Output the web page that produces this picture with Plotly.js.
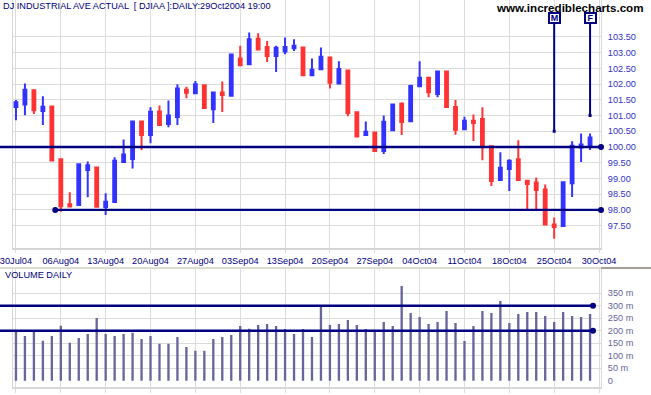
<!DOCTYPE html>
<html>
<head>
<meta charset="utf-8">
<script src="https://cdn.plot.ly/plotly-3.0.1.min.js"></script>
<style>
html,body{margin:0;padding:0;background:#ffffff;}
#chart{width:651px;height:395px;}
</style>
</head>
<body>
<div id="chart"></div>
<script>
// ---------- data ----------
const dates = [
  '2004-07-30',
  '2004-08-02','2004-08-03','2004-08-04','2004-08-05','2004-08-06',
  '2004-08-09','2004-08-10','2004-08-11','2004-08-12','2004-08-13',
  '2004-08-16','2004-08-17','2004-08-18','2004-08-19','2004-08-20',
  '2004-08-23','2004-08-24','2004-08-25','2004-08-26','2004-08-27',
  '2004-08-30','2004-08-31','2004-09-01','2004-09-02','2004-09-03',
  '2004-09-07','2004-09-08','2004-09-09','2004-09-10',
  '2004-09-13','2004-09-14','2004-09-15','2004-09-16','2004-09-17',
  '2004-09-20','2004-09-21','2004-09-22','2004-09-23','2004-09-24',
  '2004-09-27','2004-09-28','2004-09-29','2004-09-30','2004-10-01',
  '2004-10-04','2004-10-05','2004-10-06','2004-10-07','2004-10-08',
  '2004-10-11','2004-10-12','2004-10-13','2004-10-14','2004-10-15',
  '2004-10-18','2004-10-19','2004-10-20','2004-10-21','2004-10-22',
  '2004-10-25','2004-10-26','2004-10-27','2004-10-28','2004-10-29'
];
const open = [
  101.27,101.35,101.80,101.14,101.29,99.61,98.18,98.16,99.27,99.35,
  98.09,98.25,99.52,99.62,100.81,100.38,101.13,100.73,100.95,101.82,
  101.71,101.96,101.20,101.73,101.63,102.81,102.63,103.44,103.18,102.89,
  103.03,103.14,103.16,102.28,102.47,102.84,102.02,102.43,101.10,100.38,
  100.46,99.87,100.53,101.37,100.82,101.93,102.20,101.68,102.40,101.27,
  100.56,100.83,100.89,100.02,98.95,99.30,99.61,98.93,98.87,98.65,
  97.54,97.49,98.85,99.98,100.01
];
const high = [
  101.49,102.02,101.80,101.61,101.29,99.61,98.56,99.45,99.54,99.35,
  98.53,99.67,100.24,100.81,100.81,101.26,101.32,101.48,101.99,101.91,
  102.10,101.96,101.73,102.08,102.97,103.22,103.64,103.61,103.37,103.22,
  103.48,103.42,103.16,102.81,103.16,102.84,102.72,102.43,101.10,100.81,
  100.46,101.00,101.35,101.42,101.98,102.72,102.20,102.40,102.40,101.49,
  100.96,101.03,101.26,100.02,99.83,99.61,100.21,98.93,99.03,98.81,
  97.76,98.88,100.18,100.43,100.43
];
const low = [
  100.85,101.01,101.05,100.70,99.55,97.94,98.09,98.16,98.40,98.08,
  97.84,98.25,99.52,99.32,99.90,100.12,100.70,100.63,100.70,101.55,
  101.68,101.24,100.76,101.11,101.63,102.60,102.63,103.08,102.70,102.38,
  102.95,103.05,102.28,102.28,102.47,101.86,102.00,100.98,100.30,100.35,
  99.87,99.78,100.51,100.38,100.82,101.93,101.58,101.58,101.27,100.39,
  100.56,100.19,99.58,98.76,98.95,98.60,98.95,98.01,97.99,97.53,
  97.08,97.49,98.41,99.52,99.90
];
const close = [
  101.42,101.82,101.17,101.28,99.57,98.12,98.11,99.45,99.42,98.10,
  98.26,99.56,99.76,100.81,100.38,101.12,100.70,101.00,101.86,101.72,
  101.99,101.24,101.73,101.65,102.94,102.60,103.42,103.10,102.89,103.15,
  103.18,103.22,102.28,102.45,102.87,102.04,102.48,101.08,100.33,100.48,
  99.87,100.80,101.35,100.79,101.94,102.20,101.74,102.40,101.27,100.55,
  100.83,100.76,100.00,98.92,99.34,99.56,98.95,98.82,98.63,97.54,
  97.46,98.88,100.04,100.08,100.30
];
const volume = [
  200,179,200,160,179,220,152,171,187,251,
  187,179,187,192,167,179,148,148,175,135,
  120,120,167,175,183,219,208,223,227,219,
  207,187,207,175,300,223,227,243,223,207,
  203,235,219,379,271,255,227,235,279,231,
  159,219,279,271,319,231,267,275,275,259,
  235,275,259,255,267
];
const tickDates  = ['2004-07-30','2004-08-06','2004-08-13','2004-08-20','2004-08-27','2004-09-03','2004-09-13',
                    '2004-09-20','2004-09-27','2004-10-04','2004-10-11','2004-10-18','2004-10-25','2004-10-30'];
const tickLabels = ['30Jul04','06Aug04','13Aug04','20Aug04','27Aug04','03Sep04','13Sep04',
                    '20Sep04','27Sep04','04Oct04','11Oct04','18Oct04','25Oct04','30Oct04'];
const priceTicks = [97.5,98,98.5,99,99.5,100,100.5,101,101.5,102,102.5,103,103.5];
const volumeTicks = [0,50,100,150,200,250,300,350];
const volumeTickLabels = ['0','50 m','100 m','150 m','200 m','250 m','300 m','350 m'];
const priceLevels = [100, 98];
const priceLevelStart = [null, '2004-08-05'];
const volumeLevels = [300, 200];
const markerLabels = ['M','F'];
const markerDates = ['2004-10-25','2004-10-29'];
const markerPrices = [100.5, 101.0];

// ---------- geometry / style ----------
const NAVY = '#000080';
const GRID = '#dcdcdc';
const FONT = 'Liberation Sans, Arial, sans-serif';
const xs = dates.map((d, i) => i);
const tickIdx = tickDates.map(d => { const i = dates.indexOf(d); return i >= 0 ? i : dates.length; });
const xRange = [-0.33, 65.22];
const priceRange = [96.79, 104.67];
const volRange = [-25, 451];
const plotW = 588, plotH = 387, priceBottomPx = 248;
const padLeftPaper = -13 / plotW;
function priceAtPx(py) { return priceRange[1] - py / priceBottomPx * (priceRange[1] - priceRange[0]); }

const traces = [
  {
    type: 'candlestick', x: xs, open: open, high: high, low: low, close: close,
    xaxis: 'x', yaxis: 'y',
    increasing: {line: {color: '#3333ff', width: 2}, fillcolor: '#3333ff'},
    decreasing: {line: {color: '#ff3333', width: 2}, fillcolor: '#ff3333'},
    whiskerwidth: 0, hoverinfo: 'skip', showlegend: false
  },
  {
    type: 'bar', x: xs, y: volume, xaxis: 'x2', yaxis: 'y2',
    width: 0.26, marker: {color: '#66669c', line: {width: 0}},
    hoverinfo: 'skip', showlegend: false
  }
];

const shapes = [];
const annotations = [];

// support / resistance lines in price panel
priceLevels.forEach((lv, k) => {
  const startDay = priceLevelStart[k];
  if (startDay === null) {
    shapes.push({type: 'line', xref: 'paper', yref: 'y', x0: padLeftPaper, x1: 1, y0: lv, y1: lv,
      line: {color: NAVY, width: 2.4}});
  } else {
    const si = dates.indexOf(startDay) + 0.38;
    shapes.push({type: 'line', xref: 'x', yref: 'y', x0: si, x1: xRange[1], y0: lv, y1: lv,
      line: {color: NAVY, width: 2.4}});
    shapes.push({type: 'circle', xref: 'x', yref: 'y', xsizemode: 'pixel', ysizemode: 'pixel',
      xanchor: si, yanchor: lv, x0: -3, x1: 3, y0: -3, y1: 3, fillcolor: NAVY, line: {width: 0}});
  }
  shapes.push({type: 'circle', xref: 'paper', yref: 'y', xsizemode: 'pixel', ysizemode: 'pixel',
    xanchor: 1, yanchor: lv, x0: -3, x1: 3, y0: -3, y1: 3, fillcolor: NAVY, line: {width: 0}});
});

// volume lines
const volLineEnd = (593 - 13) / plotW;
volumeLevels.forEach(lv => {
  shapes.push({type: 'line', xref: 'paper', yref: 'y2', x0: padLeftPaper, x1: volLineEnd, y0: lv, y1: lv,
    line: {color: NAVY, width: 2.4}});
  shapes.push({type: 'circle', xref: 'paper', yref: 'y2', xsizemode: 'pixel', ysizemode: 'pixel',
    xanchor: volLineEnd, yanchor: lv, x0: -3, x1: 3, y0: -3, y1: 3, fillcolor: NAVY, line: {width: 0}});
});

// M / F markers
markerLabels.forEach((lab, k) => {
  const xi = dates.indexOf(markerDates[k]);
  shapes.push({type: 'line', xref: 'x', yref: 'y', x0: xi, x1: xi, y0: markerPrices[k], y1: priceAtPx(22),
    line: {color: NAVY, width: 2}});
  shapes.push({type: 'rect', xref: 'x', yref: 'y', xsizemode: 'pixel', ysizemode: 'pixel',
    xanchor: xi, yanchor: markerPrices[k], x0: -1.5, x1: 1.5, y0: -1.5, y1: 1.5, fillcolor: NAVY, line: {width: 0}});
  annotations.push({xref: 'x', yref: 'y', x: xi, y: priceAtPx(18), text: '<b>' + lab + '</b>', showarrow: false,
    font: {family: FONT, size: 9, color: NAVY}, bgcolor: '#ffffff', bordercolor: NAVY, borderwidth: 2,
    borderpad: 0, width: 9, height: 8, xanchor: 'center', yanchor: 'middle'});
});

// band between panels (volume panel top border)
shapes.push({type: 'line', xref: 'paper', yref: 'paper', x0: padLeftPaper, x1: 1, y0: (plotH - 268) / plotH, y1: (plotH - 268) / plotH,
  line: {color: '#dcdccf', width: 2}});
shapes.push({type: 'line', xref: 'paper', yref: 'paper', x0: 1, x1: 1 + 50 / plotW, y0: (plotH - 268) / plotH, y1: (plotH - 268) / plotH,
  line: {color: '#a8a096', width: 2}});

annotations.push({xref: 'paper', yref: 'paper', x: 1 + 44 / plotW, y: 1 - 8 / plotH, xanchor: 'right', yanchor: 'middle',
  text: '<b>www.incrediblecharts.com</b>', showarrow: false, font: {family: FONT, size: 11.6, color: '#000000'}});
annotations.push({xref: 'paper', yref: 'paper', x: padLeftPaper + 3 / plotW, y: (plotH - 275) / plotH, xanchor: 'left', yanchor: 'middle',
  text: 'VOLUME DAILY', showarrow: false, font: {family: FONT, size: 9.2, color: NAVY}});

const layout = {
  width: 651, height: 395,
  margin: {l: 13, r: 50, t: 0, b: 8, pad: 0},
  paper_bgcolor: '#ffffff', plot_bgcolor: '#ffffff',
  font: {family: FONT, size: 9.2, color: NAVY},
  showlegend: false,
  boxgap: 0.55,
  title: {text: 'DJ INDUSTRIAL AVE ACTUAL  [ DJIAA ]:DAILY:29Oct2004 19:00', x: 3 / 651, xanchor: 'left',
    xref: 'container', y: 1 - 5.5 / 395, yanchor: 'middle', yref: 'container',
    font: {family: FONT, size: 9.2, color: NAVY}},
  xaxis: {
    domain: [0, 1], anchor: 'y', range: xRange, tickmode: 'array', tickvals: tickIdx, ticktext: tickLabels,
    showgrid: true, gridcolor: GRID, gridwidth: 1, zeroline: false,
    showline: true, linecolor: '#d4d4d4', linewidth: 2,
    ticks: 'outside', ticklen: 3, tickcolor: GRID, tickwidth: 1,
    ticklabeloverflow: 'allow',
    tickfont: {family: FONT, size: 9.2, color: NAVY}, rangeslider: {visible: false}, fixedrange: true
  },
  yaxis: {
    domain: [(plotH - priceBottomPx) / plotH, 1], anchor: 'x', range: priceRange, side: 'right',
    tickmode: 'array', tickvals: priceTicks, tickformat: '.2f',
    showgrid: true, gridcolor: GRID, gridwidth: 1, zeroline: false,
    showline: true, linecolor: '#d8d8d8', linewidth: 1, mirror: true,
    ticks: '', ticklabelstandoff: 4,
    tickfont: {family: FONT, size: 9.2, color: '#3333cc'}, fixedrange: true
  },
  xaxis2: {
    domain: [0, 1], anchor: 'y2', range: xRange, tickmode: 'array', tickvals: tickIdx, showticklabels: false,
    showgrid: true, gridcolor: GRID, gridwidth: 1, zeroline: false,
    showline: true, linecolor: '#d8d8d8', linewidth: 2,
    ticks: 'outside', ticklen: 4, tickcolor: GRID, fixedrange: true
  },
  yaxis2: {
    domain: [0, (plotH - 268) / plotH], anchor: 'x2', range: volRange, side: 'right',
    tickmode: 'array', tickvals: volumeTicks, ticktext: volumeTickLabels,
    showgrid: true, gridcolor: GRID, gridwidth: 1,
    zeroline: true, zerolinecolor: 'rgba(0,0,0,0)', zerolinewidth: 1,
    showline: true, linecolor: '#d8d8d8', linewidth: 1, mirror: true,
    ticks: '', ticklabelstandoff: 4,
    tickfont: {family: FONT, size: 9.2, color: '#66669a'}, fixedrange: true
  },
  shapes: shapes,
  annotations: annotations
};

Plotly.newPlot('chart', traces, layout, {staticPlot: true, displayModeBar: false});
</script>
</body>
</html>
